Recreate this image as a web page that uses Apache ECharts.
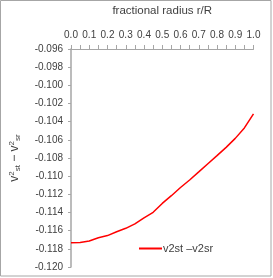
<!DOCTYPE html>
<html><head><meta charset="utf-8">
<script src="https://cdn.jsdelivr.net/npm/echarts@6/dist/echarts.min.js"></script>
<style>html,body{margin:0;padding:0;background:#fff}#c{width:273px;height:278px}</style>
</head><body><div id="c"></div>
<script>
var radius = [0.00,0.05,0.10,0.15,0.20,0.25,0.30,0.35,0.40,0.45,0.50,0.55,0.60,0.65,0.70,0.75,0.80,0.85,0.90,0.95,1.00];
var diff = [-0.11732,-0.11729,-0.11714,-0.11678,-0.11654,-0.11612,-0.11574,-0.11525,-0.11459,-0.11398,-0.11300,-0.11215,-0.11125,-0.11042,-0.10953,-0.10863,-0.10774,-0.10683,-0.10584,-0.10469,-0.10314];
var seriesName = 'v2st \u2013v2sr';
var xTitle = 'fractional radius r/R';

var pts = radius.map(function(r,i){return [r, diff[i]];});
var chart = echarts.init(document.getElementById('c'), null, {renderer:'canvas'});
var font = 'Liberation Sans, Arial, sans-serif';
chart.setOption({
  animation:false,
  grid:{left:66, right:19.5, top:47.5, bottom:11, containLabel:false},
  xAxis:{
    type:'value', position:'top', min:0, max:1, interval:0.1,
    name:xTitle, nameLocation:'middle', nameGap:32,
    nameTextStyle:{fontFamily:font, fontSize:11.5, color:'#404040'},
    axisLine:{show:true, lineStyle:{color:'#a6a6a6', width:1}},
    axisTick:{show:true, inside:false, length:4, lineStyle:{color:'#a6a6a6'}},
    minorTick:{show:true, splitNumber:2, length:4, lineStyle:{color:'#a6a6a6'}},
    axisLabel:{fontFamily:font, fontSize:10, color:'#404040', margin:9,
      formatter:function(v){return v.toFixed(1);}},
    splitLine:{show:false}
  },
  yAxis:{
    type:'value', min:-0.120, max:-0.096, interval:0.002,
    name:'{v|v}{sup|2}{sub|st}{v| \u2212 v}{sup|2}{sub|sr}', nameLocation:'middle', nameGap:49,
    nameTextStyle:{fontFamily:font, fontSize:12, color:'#404040',
      rich:{
        v:{fontFamily:font, fontSize:12, color:'#404040'},
        sup:{fontFamily:font, fontSize:8, color:'#404040', padding:[0,0,6,0]},
        sub:{fontFamily:font, fontSize:8, color:'#404040', padding:[6,0,0,0]}
      }},
    axisLine:{show:true, lineStyle:{color:'#a6a6a6', width:1.5}},
    axisTick:{show:true, inside:false, length:3, lineStyle:{color:'#a6a6a6'}},
    axisLabel:{fontFamily:font, fontSize:10, color:'#404040', margin:8,
      formatter:function(v){return v.toFixed(3);}},
    splitLine:{show:false}
  },
  legend:{
    left:139, top:243, padding:0, itemWidth:23, itemHeight:12, itemGap:0,
    icon:'path://M0,5 L23,5 L23,7 L0,7 Z',
    textStyle:{fontFamily:font, fontSize:11, color:'#404040', padding:[0,0,0,-4]},
    data:[seriesName]
  },
  graphic:[{type:'rect', shape:{x:0.5,y:0.5,width:270.5,height:275.5}, style:{fill:'none', stroke:'#a6a6a6', lineWidth:1}, silent:true}],
  series:[{
    name:seriesName, type:'line', data:pts, showSymbol:false, symbol:'none',
    lineStyle:{color:'#ff0000', width:1.5}, itemStyle:{color:'#ff0000'}
  }]
});
</script></body></html>
